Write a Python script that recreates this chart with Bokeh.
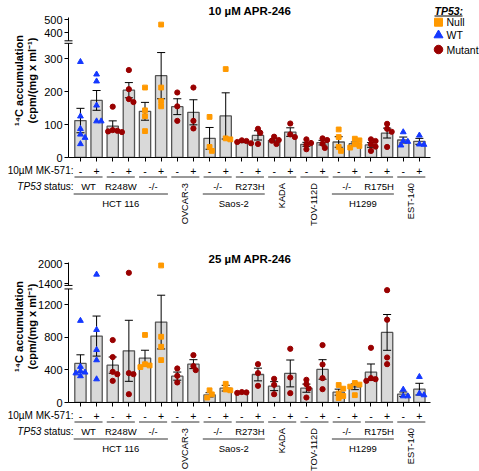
import math
from bokeh.plotting import figure
from bokeh.layouts import column
from bokeh.models import Range1d, FixedTicker, ColumnDataSource
from bokeh.core.properties import value
from bokeh.embed import file_html
from bokeh.resources import INLINE

# ---------------- data ----------------
mk571 = ["-", "+"] * 11
genotype = ["WT", "WT", "Mutant", "Mutant", "Null", "Null", "Mutant", "Mutant",
            "Null", "Null", "Mutant", "Mutant", "Mutant", "Mutant", "Mutant", "Mutant",
            "Null", "Null", "Mutant", "Mutant", "WT", "WT"]
pair_status = ["WT", "R248W", "-/-", "", "-/-", "R273H", "", "", "-/-", "R175H", ""]
group_names = ["HCT 116", "OVCAR-3", "Saos-2", "KADA", "TOV-112D", "H1299", "EST-140"]
group_first = [0, 3, 4, 6, 7, 8, 10]
group_last = [2, 3, 5, 6, 7, 9, 10]
group_rotated = [False, True, False, True, True, False, True]
legend_labels = ["Null", "WT", "Mutant"]

# 10 uM APR-246
mean10 = [112, 173, 95, 204, 140, 248, 154, 137, 58, 126, 47, 67, 52, 77, 40, 45, 47, 42, 38, 74, 53, 49]
sem10 = [37, 30, 16, 23, 27, 70, 24, 38, 33, 70, 2, 14, 5, 13, 6, 7, 16, 5, 7, 15, 9, 9]
pts10 = [[290, 125, 87, 70, 60, 41], [252, 231, 158, 110, 110], [154, 83, 81, 79, 77],
         [265, 207, 177, 168], [212, 143, 125, 80], [462, 212, 171, 155], [197, 155, 111],
         [212, 111, 88], [123, 32, 20], [268, 58, 55], [52, 50, 47, 43], [87, 75, 41],
         [63, 53, 51, 41], [103, 70, 62], [55, 44, 39, 25], [58, 53, 42, 29], [85, 62, 32, 20],
         [57, 52, 40, 35, 30], [55, 50, 40, 33, 20], [102, 87, 78, 32], [77, 50, 48, 37],
         [67, 40, 39]]
yticks10_low = [0, 100, 200, 300]
yticks10_high = [400, 500]

# 25 uM APR-246
mean25 = [480, 816, 459, 635, 545, 988, 324, 471, 94, 176, 119, 344, 201, 357, 176, 406, 127, 193, 373, 861, 102, 164]
sem25 = [106, 246, 100, 375, 97, 330, 50, 55, 26, 35, 5, 78, 55, 165, 50, 120, 37, 35, 100, 220, 27, 72]
pts25 = [[1005, 440, 385, 370, 360, 325], [1680, 894, 648, 521, 287], [767, 558, 377, 348, 266],
         [1730, 361, 348, 102], [830, 470, 455, 435], [1950, 808, 685, 521], [418, 328, 246],
         [582, 447, 398], [150, 100, 60], [230, 160, 150], [128, 124, 118], [471, 361, 205],
         [291, 217, 102], [660, 307, 115], [279, 225, 172, 61], [705, 467, 299, 164],
         [215, 170, 110, 80, 55], [240, 220, 195, 90], [672, 299, 287, 266], [1380, 1017, 553, 471],
         [160, 78, 78], [316, 111, 91]]
yticks25_low = [0, 400, 800, 1200]
yticks25_high = [1400, 2000]

# ---------------- styles ----------------
COLORS = {"Null": "#FF9900", "WT": "#1438FF", "Mutant": "#990000"}
MARKERS = {"Null": "square", "WT": "triangle", "Mutant": "circle"}
SIZES = {"Null": 4.8, "WT": 5.8, "Mutant": 5.2}
LEG_SIZES = {"Null": 8, "WT": 9, "Mutant": 8.5}
FONT = "Liberation Sans"
W = 479
FL = 68
PPX = 16.14
XS0 = -0.74


def swarm_offsets(ypx, d=4.6):
    n = len(ypx)
    order = sorted(range(n), key=lambda i: ypx[i])
    cands = [0.0]
    for k in range(1, 14):
        cands += [k * d / 2, -k * d / 2]
    placed = []
    off = [0.0] * n
    for i in order:
        for c in cands:
            if all((c - px) ** 2 + (ypx[i] - py) ** 2 >= (d * 0.95) ** 2 for px, py in placed):
                off[i] = c
                placed.append((c, ypx[i]))
                break
    return off


def lab(p, x, y, text, size, align="center", baseline="middle", angle=0.0, style="normal"):
    p.text(x=[x], y=[y], text=[text], text_font=value(FONT), text_font_size=value(size),
           text_align=align, text_baseline=baseline, angle=angle, text_font_style=style,
           text_color="black", level="overlay")


def make_panel(title, means, sems, pts, H, base, ppu_lo, ppu_hi, anchor_v, anchor_cy,
               ticks_lo, ticks_hi, lo_top_v, hi_bot_v, axis_top_cy, title_cy, ytitle_cy, legend):
    n = len(means)
    x_end = XS0 + (W - FL) / PPX
    y_end = base / ppu_lo
    u_end = anchor_v + anchor_cy / ppu_hi
    u_start = u_end - base / ppu_hi

    def X(cx):
        return XS0 + (cx - FL) / PPX

    def Y(cy):
        return (base - cy) / ppu_lo

    def main_of_upper(v):
        return (v - u_start) / (u_end - u_start) * y_end

    p = figure(width=W, height=H, x_range=Range1d(XS0, x_end), y_range=Range1d(0, y_end),
               output_backend="svg", toolbar_location=None, title=None,
               min_border_left=FL, min_border_right=0, min_border_top=0,
               min_border_bottom=H - base)
    p.extra_y_ranges = {"upper": Range1d(u_start, u_end)}
    p.xgrid.visible = False
    p.ygrid.visible = False
    p.outline_line_color = None
    p.background_fill_color = "white"

    # x axis
    xa = p.xaxis[0]
    xa.ticker = FixedTicker(ticks=list(range(n)))
    xa.major_label_overrides = {i: mk571[i] for i in range(n)}
    xa.bounds = (XS0, X(430))
    xa.major_tick_out = 4
    xa.major_tick_in = 0
    xa.minor_tick_line_color = None
    xa.axis_line_color = "black"
    xa.major_tick_line_color = "black"
    xa.major_label_text_font = FONT
    xa.major_label_text_font_size = "10.5px"
    xa.major_label_text_color = "black"
    xa.major_label_standoff = 5

    # y axis (broken)
    ya = p.yaxis[0]
    tick_vals = list(ticks_lo) + [round(main_of_upper(v), 4) for v in ticks_hi]
    ya.ticker = FixedTicker(ticks=tick_vals)
    ya.major_label_overrides = {tv: str(v) for tv, v in zip(tick_vals, list(ticks_lo) + list(ticks_hi))}
    ya.bounds = (0, Y(axis_top_cy))
    ya.major_tick_out = 4
    ya.major_tick_in = 0
    ya.minor_tick_line_color = None
    ya.axis_line_color = "black"
    ya.major_tick_line_color = "black"
    ya.major_label_text_font = FONT
    ya.major_label_text_font_size = "11px"
    ya.major_label_text_color = "black"
    ya.major_label_standoff = 2

    xs = list(range(n))
    p.vbar(x=xs, top=means, bottom=0, width=0.7, fill_color="#d9d9d9",
           line_color="#555555", line_width=1.3)
    lo = [m - s for m, s in zip(means, sems)]
    hi = [m + s for m, s in zip(means, sems)]
    cap = 0.25
    p.segment(xs, lo, xs, hi, line_color="black", line_width=1)
    p.segment([x - cap for x in xs], hi, [x + cap for x in xs], hi, line_color="black", line_width=1)
    p.segment([x - cap for x in xs], lo, [x + cap for x in xs], lo, line_color="black", line_width=1)

    s_lo = dict(x=[], y=[], pt_color=[], pt_marker=[], pt_size=[])
    s_hi = dict(x=[], y=[], pt_color=[], pt_marker=[], pt_size=[])
    for i, vals in enumerate(pts):
        g = genotype[i]
        ypx = [(base - v * ppu_lo) if v <= lo_top_v else (anchor_cy + (anchor_v - v) * ppu_hi) for v in vals]
        offs = swarm_offsets(ypx)
        for v, o in zip(vals, offs):
            t = s_lo if v <= lo_top_v else s_hi
            t["x"].append(i + o / PPX)
            t["y"].append(v)
            t["pt_color"].append(COLORS[g])
            t["pt_marker"].append(MARKERS[g])
            t["pt_size"].append(SIZES[g])
    p.scatter("x", "y", marker="pt_marker", size="pt_size", fill_color="pt_color",
              line_color="pt_color", source=ColumnDataSource(s_lo))
    p.scatter("x", "y", marker="pt_marker", size="pt_size", fill_color="pt_color",
              line_color="pt_color", source=ColumnDataSource(s_hi), y_range_name="upper")

    # axis break
    cy_hi = anchor_cy + (anchor_v - hi_bot_v) * ppu_hi
    cy_lo = base - lo_top_v * ppu_lo
    p.quad(left=[X(FL - 5)], right=[X(FL + 5)], top=[Y(cy_hi)], bottom=[Y(cy_lo)],
           fill_color="white", line_color=None, level="overlay")
    p.segment([X(FL - 4)] * 2, [Y(cy_hi), Y(cy_lo)], [X(FL + 4)] * 2, [Y(cy_hi), Y(cy_lo)],
              line_color="black", line_width=1, level="overlay")

    # titles
    lab(p, (n - 1) / 2, Y(title_cy), title, "11.5px", style="bold")
    lab(p, X(18.3), Y(ytitle_cy), "\u00b9\u2074C accumulation", "11px", angle=math.pi / 2, style="bold")
    lab(p, X(31.7), Y(ytitle_cy), "(cpm/(mg x ml\u207b\u00b9)", "11px", angle=math.pi / 2, style="bold")

    # category rows below the axis
    fs_head = 10.0
    lab(p, X(73), Y(base + 13), "10\u00b5M MK-571:", "%.1fpx" % fs_head, align="right")
    lab(p, X(73), Y(base + 28.5), "status:", "%.1fpx" % fs_head, align="right")
    lab(p, X(73 - (2.946 + 0.278) * fs_head), Y(base + 28.5), "TP53", "%.1fpx" % fs_head,
        align="right", style="italic")
    ux0, ux1, uy = [], [], []
    for j, st in enumerate(pair_status):
        ux0.append(2 * j - 0.37)
        ux1.append(2 * j + 1 + 0.37)
        uy.append(Y(base + 19.5))
        if st:
            lab(p, 2 * j + 0.5, Y(base + 28.5), st, "9.5px")
    for name, a, b, rot in zip(group_names, group_first, group_last, group_rotated):
        if rot:
            lab(p, (2 * a + 2 * b + 1) / 2, Y(base + 25.5), name, "9.3px", align="right",
                angle=math.pi / 2)
        else:
            ux0.append(2 * a - 0.42)
            ux1.append(2 * b + 1 + 0.42)
            uy.append(Y(base + 36.5))
            lab(p, (2 * a + 2 * b + 1) / 2, Y(base + 45.5), name, "9.5px")
    p.segment(ux0, uy, ux1, uy, line_color="#333333", line_width=1, level="overlay")

    if legend:
        lx = X(438)
        for g, cy in zip(legend_labels, [21.7, 34.7, 49.0]):
            p.scatter([lx], [Y(cy)], marker=MARKERS[g], size=LEG_SIZES[g],
                      fill_color=COLORS[g], line_color=COLORS[g])
            lab(p, X(446), Y(cy), g, "10.5px", align="left")
        lab(p, X(434), Y(10), "TP53:", "10.5px", align="left", style="bold italic")
        p.segment([X(434)], [Y(15.5)], [X(462)], [Y(15.5)], line_color="black", line_width=1)
    return p


pA = make_panel("10 \u00b5M APR-246", mean10, sem10, pts10, H=240, base=157, ppu_lo=0.33,
                ppu_hi=0.1333, anchor_v=500, anchor_cy=19, ticks_lo=yticks10_low,
                ticks_hi=yticks10_high, lo_top_v=346, hi_bot_v=340, axis_top_cy=17,
                title_cy=10, ytitle_cy=80, legend=True)
pB = make_panel("25 \u00b5M APR-246", mean25, sem25, pts25, H=231, base=162, ppu_lo=0.0814,
                ppu_hi=0.0333, anchor_v=2000, anchor_cy=23.3, ticks_lo=yticks25_low,
                ticks_hi=yticks25_high, lo_top_v=1395, hi_bot_v=1350, axis_top_cy=22,
                title_cy=18, ytitle_cy=86, legend=False)

layout = column(pA, pB, spacing=0)
open("out.html", "w").write(file_html(layout, INLINE))
